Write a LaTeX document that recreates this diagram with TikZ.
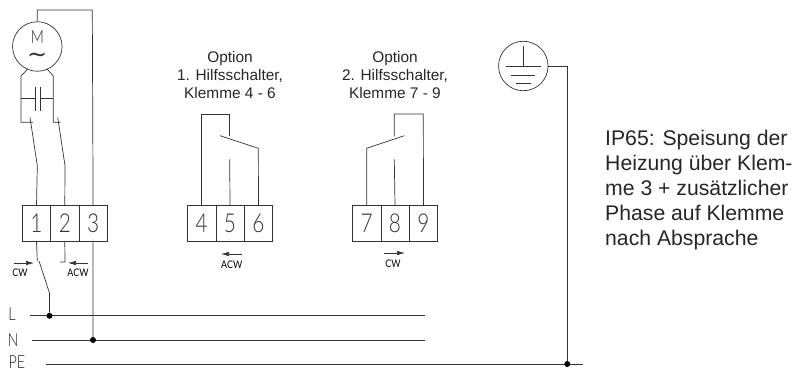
\documentclass[tikz,border=0pt]{standalone}
\usepackage{fontspec}
\setmainfont{Liberation Sans}
\newfontfamily\cadfont[FakeStretch=0.8]{Lato Light}
\newfontfamily\cadklein[FakeStretch=0.85]{Lato}
\newfontfamily\symfont{DejaVu Sans}
\usetikzlibrary{arrows.meta}
\tikzset{
    x=1pt, y=-1pt,
    wire/.style={draw=black!80, line width=0.7pt},
    klemme/.style={draw=black!80, line width=0.7pt, minimum width=28.3pt, minimum height=36pt, inner sep=0pt, font=\cadfont\fontsize{26}{26}\selectfont, text=black!80},
    lab/.style={font=\cadfont\fontsize{18}{18}\selectfont, text=black!85, inner sep=0pt},
    klein/.style={font=\cadklein\fontsize{10.5}{10.5}\selectfont, text=black, inner sep=0pt},
    pfeil/.style={wire, -{Latex[length=8pt,width=4.5pt]}},
    punkt/.style={circle, fill=black, inner sep=0pt, minimum size=6pt},
    titel/.style={align=center, font=\fontsize{15.4}{18}\selectfont, text=black!85, inner sep=0pt},
}
\begin{document}
\begin{tikzpicture}
    \useasboundingbox (0,0) rectangle (793,371);
    % motor
    \node[circle, draw=black!80, line width=0.7pt, minimum size=49.5pt, inner sep=0pt] (motor) at (37.3,46.5) {};
    \node[lab] (m) at (37.3,37) {M};
    \node[font=\symfont\fontsize{24}{24}\selectfont, text=black!80, inner sep=0pt] (tilde) at (37.3,57.5) {\char"223C};
    \coordinate (top1) at (37.3,10);
    \coordinate (top3) at (92.3,10);
    % klemmen motor
    \node[klemme] (k1) at (36.5,223.7) {1};
    \node[klemme] (k2) at (64.8,223.7) {2};
    \node[klemme] (k3) at (93.1,223.7) {3};
    \draw[wire] (motor.north) -- (top1) -- (top3) -- (k3.north);
    % kondensator
    \coordinate (capa) at (35,98.7);
    \coordinate (capb) at (40,98.7);
    \draw[wire] (27.7,69) -- (21,76) -- (21,122.3) -- (33,122.3);
    \draw[wire] (47,69) -- (53.3,76) -- (53.3,122.3) -- (60.7,122.3);
    \draw[wire] (21,98.7) -- (capa);
    \draw[wire] (capb) -- (53.3,98.7);
    \draw[wire] (35,87.3) -- (35,110.7);
    \draw[wire] (40,87.3) -- (40,110.7);
    \draw[wire] (30,117.3) -- (37.3,165.7) -- (k1.north);
    \draw[wire] (57.7,117.3) -- (65,165.7) -- (k2.north);
    % netz
    \node[lab] (l) at (12,314) {L};
    \node[lab] (n) at (13,340) {N};
    \node[lab] (pe) at (17,362.5) {PE};
    \coordinate (lend) at (425,315.8);
    \coordinate (nend) at (425,340);
    \coordinate (peend) at (582.7,364);
    \draw[wire] (30,315.8) -- (lend);
    \draw[wire] (32,340) -- (nend);
    \draw[wire] (46,364) -- (peend);
    \node[punkt] (dl) at (49.5,315.8) {};
    \node[punkt] (dn) at (93,340) {};
    \node[punkt] (dpe) at (567.3,364) {};
    \draw[wire] (k3.south) -- (dn);
    % schalter
    \draw[wire] (k1.south) -- (37.3,261);
    \draw[wire] (39,261) -- (49.5,293) -- (dl);
    \draw[wire] (k2.south) -- (65,262) -- (60,262);
    \draw[pfeil] (14,263) -- (34,263);
    \draw[pfeil] (88,263) -- (68,263);
    \node[klein] (cw1) at (20,272.5) {CW};
    \node[klein] (acw1) at (78,272.5) {ACW};
    % hilfsschalter 1
    \node[titel] (t1) at (230,74.5) {Option\\1. Hilfsschalter,\\Klemme 4 - 6};
    \node[klemme] (k4) at (201.7,223.7) {4};
    \node[klemme] (k5) at (230,223.7) {5};
    \node[klemme] (k6) at (258.5,223.7) {6};
    \draw[wire] (k4.north) -- (201.7,114) -- (229.7,114) -- (229.7,136.5);
    \draw[wire] (220,135.7) -- (258.3,148.3) -- (k6.north);
    \draw[wire] (229.7,159.3) -- (k5.north);
    \draw[pfeil] (241.7,254) -- (221,254);
    \node[klein] (acw2) at (231.7,265) {ACW};
    % hilfsschalter 2
    \node[titel] (t2) at (395,74.5) {Option\\2. Hilfsschalter,\\Klemme 7 - 9};
    \node[klemme] (k7) at (366.7,223.7) {7};
    \node[klemme] (k8) at (395,223.7) {8};
    \node[klemme] (k9) at (423.5,223.7) {9};
    \draw[wire] (k9.north) -- (423.3,114) -- (394.3,114) -- (394.3,136.5);
    \draw[wire] (404.3,135.7) -- (366.7,148.3) -- (k7.north);
    \draw[wire] (394.3,159.3) -- (k8.north);
    \draw[pfeil] (384,253) -- (405,253);
    \node[klein] (cw2) at (393,264) {CW};
    % erde
    \node[circle, draw=black!80, line width=0.7pt, minimum size=49.5pt, inner sep=0pt] (erde) at (523.3,66) {};
    \draw[wire] (523.3,46) -- (523.3,66);
    \draw[wire] (506,66) -- (540.5,66);
    \draw[wire] (511,75) -- (535,75);
    \draw[wire] (516,83.5) -- (531,83.5);
    \draw[wire] (erde.east) -- (567.3,66) -- (dpe);
    % text
    \node[anchor=west, align=left, font=\fontsize{21.2}{25}\selectfont, text=black!85, inner sep=0pt] (info) at (605,190.5) {IP65: Speisung der\\Heizung über Klem-\\me 3 + zusätzlicher\\Phase auf Klemme\\nach Absprache};
\end{tikzpicture}
\end{document}
